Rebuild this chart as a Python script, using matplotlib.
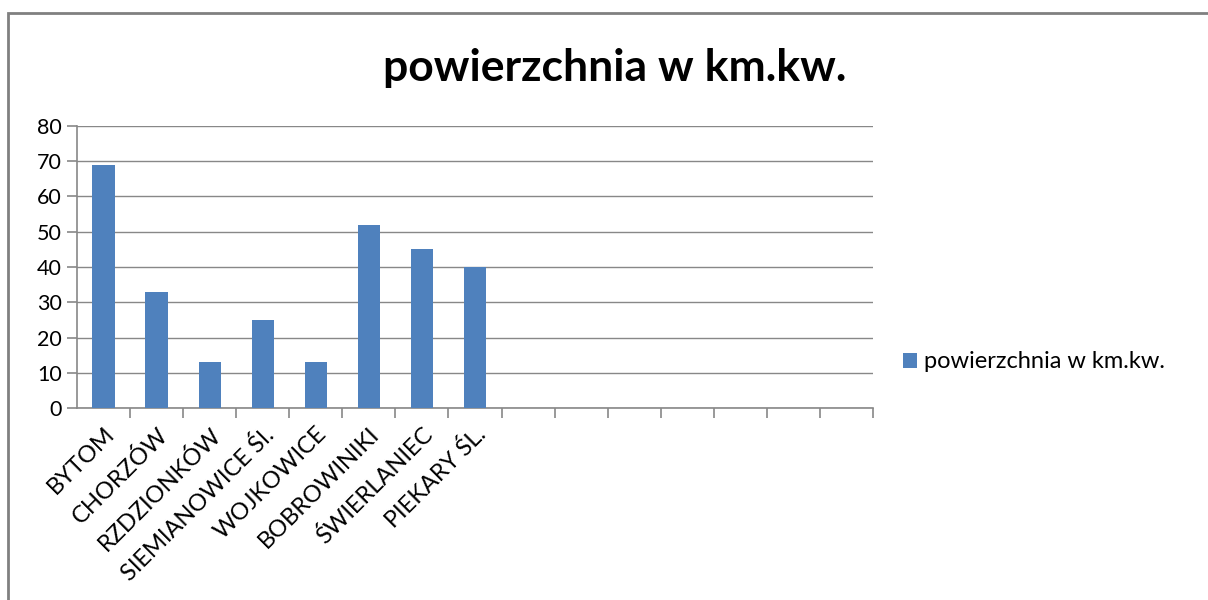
import matplotlib.pyplot as plt
import numpy as np
from matplotlib.patches import Rectangle

# Area in km2 per town; the remaining category slots in the sheet are empty.
TOWNS = ["BYTOM", "CHORZÓW", "RZDZIONKÓW", "SIEMIANOWICE ŚI.", "WOJKOWICE",
         "BOBROWINIKI", "ŚWIERLANIEC", "PIEKARY ŚL."]
AREA = [69, 33, 13, 25, 13, 52, 45, 40]
N_SLOTS = 15
SERIES = "powierzchnia w km.kw."

BLUE = "#4F81BD"
GRID = "#888888"

plt.rcParams["font.family"] = ["Lato", "DejaVu Sans"]

fig = plt.figure(figsize=(12.08, 6.0), dpi=100)
ax = fig.add_axes([77 / 1208, 1 - 408 / 600, (873 - 77) / 1208, (408 - 126) / 600])

x = np.arange(len(TOWNS))
ax.bar(x, AREA, width=0.42, color=BLUE, label=SERIES, zorder=3)

ax.set_xlim(-0.5, N_SLOTS - 0.5)
ax.set_ylim(0, 80)
ax.set_yticks(range(0, 81, 10))
ax.yaxis.grid(True, color=GRID, lw=1)
ax.set_axisbelow(True)
for s in ["top", "right"]:
    ax.spines[s].set_visible(False)
for s in ["left", "bottom"]:
    ax.spines[s].set_color(GRID)
    ax.spines[s].set_linewidth(1.2)

# category labels at centers, tick marks at boundaries
ax.set_xticks(x)
ax.set_xticklabels(TOWNS, rotation=45, ha="right", rotation_mode="anchor",
                   fontsize=17)
ax.tick_params(axis="x", length=0, pad=11)
ax.set_xticks(np.arange(0.5, N_SLOTS, 1), minor=True)
ax.tick_params(axis="x", which="minor", length=7, color=GRID, width=1.2)
ax.tick_params(axis="y", length=7, color=GRID, width=1.2, labelsize=15.5, pad=4)

fig.text(615 / 1208, 1 - 68 / 600, SERIES, ha="center", va="center",
         fontsize=32, fontweight="bold")

ax.legend(loc="center left", bbox_to_anchor=(882 / 1208, 1 - 362 / 600),
          bbox_transform=fig.transFigure, frameon=False, fontsize=17,
          handlelength=0.6, handleheight=0.6, handletextpad=0.3)

fig.add_artist(Rectangle((8 / 1208, -0.1), 1.2, 1 - 13 / 600 + 0.1,
                         transform=fig.transFigure, fill=False,
                         edgecolor="#808080", lw=2))

fig.savefig("out.png", dpi=100)
